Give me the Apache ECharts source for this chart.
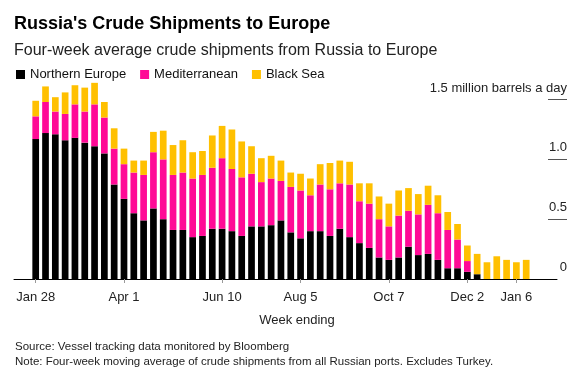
<!DOCTYPE html>
<html><head><meta charset="utf-8">
<script src="https://cdn.jsdelivr.net/npm/echarts@6/dist/echarts.min.js"></script>
<style>html,body{margin:0;padding:0;background:#fff}#c{width:584px;height:369px}</style>
</head><body><div id="c"></div>
<script>
// Week ending dates (weekly, starting Jan 28, 2022)
const firstWeek = '2022-01-28';
const tickWeekIndex = [0, 9, 19, 27, 36, 44, 49];
const tickLabels = ['Jan 28', 'Apr 1', 'Jun 10', 'Aug 5', 'Oct 7', 'Dec 2', 'Jan 6'];
const seriesNames = ['Northern Europe', 'Mediterranean', 'Black Sea'];
// million barrels a day
const northernEurope = [1.17,1.22,1.21,1.16,1.18,1.14,1.11,1.05,0.79,0.67,0.55,0.49,0.59,0.50,0.41,0.41,0.35,0.36,0.42,0.42,0.40,0.36,0.44,0.44,0.45,0.49,0.39,0.34,0.40,0.40,0.36,0.42,0.35,0.30,0.26,0.18,0.16,0.18,0.27,0.20,0.21,0.16,0.09,0.09,0.06,0.04,0,0,0,0,0];
const mediterranean = [0.19,0.26,0.19,0.22,0.28,0.26,0.35,0.30,0.30,0.29,0.34,0.38,0.47,0.50,0.46,0.48,0.49,0.51,0.51,0.59,0.52,0.49,0.44,0.37,0.39,0.33,0.38,0.40,0.30,0.39,0.39,0.38,0.44,0.35,0.37,0.32,0.28,0.35,0.30,0.34,0.41,0.39,0.32,0.24,0.09,0,0,0,0,0,0];
const blackSea = [0.13,0.13,0.12,0.18,0.16,0.20,0.18,0.13,0.17,0.13,0.10,0.12,0.17,0.24,0.25,0.27,0.22,0.20,0.27,0.27,0.33,0.30,0.23,0.20,0.19,0.17,0.12,0.14,0.14,0.17,0.22,0.19,0.19,0.15,0.17,0.19,0.19,0.21,0.19,0.17,0.16,0.15,0.15,0.13,0.13,0.17,0.14,0.19,0.16,0.14,0.16];
const yTickValues = [0.5, 1.0, 1.5];
const colors = ['#000000', '#ff0a96', '#ffc000'];

const start = new Date(firstWeek + 'T00:00:00Z');
const weeks = northernEurope.map((_, i) => new Date(start.getTime() + i * 7 * 864e5).toISOString().slice(0, 10));

const FONT = 'Liberation Sans, Arial, sans-serif';
const chart = echarts.init(document.getElementById('c'), null, {renderer: 'canvas'});
const isTick = idx => tickWeekIndex.indexOf(idx) >= 0;

chart.setOption({
  animation: false,
  textStyle: {fontFamily: FONT},
  title: [
    {text: "Russia's Crude Shipments to Europe", left: 14, top: 14, padding: 0,
     textStyle: {fontSize: 18, fontWeight: 'bold', color: '#000', fontFamily: FONT, lineHeight: 20}},
    {text: 'Four-week average crude shipments from Russia to Europe', left: 14, top: 42, padding: 0,
     textStyle: {fontSize: 16, fontWeight: 'normal', color: '#222', fontFamily: FONT, lineHeight: 18}},
    {text: 'Week ending', left: 297, top: 313, textAlign: 'center', padding: 0,
     textStyle: {fontSize: 13, fontWeight: 'normal', color: '#222', fontFamily: FONT, lineHeight: 15}},
    {text: 'Source: Vessel tracking data monitored by Bloomberg', left: 15, top: 340, padding: 0,
     textStyle: {fontSize: 11.5, fontWeight: 'normal', color: '#222', fontFamily: FONT, lineHeight: 14}},
    {text: 'Note: Four-week moving average of crude shipments from all Russian ports. Excludes Turkey.', left: 15, top: 355, padding: 0,
     textStyle: {fontSize: 11.5, fontWeight: 'normal', color: '#222', fontFamily: FONT, lineHeight: 14}}
  ],
  legend: {
    data: seriesNames, left: 16, top: 68, padding: 0, icon: 'rect',
    itemWidth: 9, itemHeight: 9, itemGap: 14,
    textStyle: {fontSize: 13, color: '#111', fontFamily: FONT}
  },
  grid: [
    // bars (scale extends to 1.8 so tall bars are not clipped; same px per unit as frame)
    {left: 30.8, width: 500.3, top: 63.7, bottom: 90, containLabel: false, outerBoundsMode: 'none'},
    // frame: baseline and value labels
    {left: 14, right: 27, top: 99.6, bottom: 90, containLabel: false, outerBoundsMode: 'none'}
  ],
  xAxis: [
    {
      type: 'category', gridIndex: 0, data: weeks, boundaryGap: true,
      axisLine: {show: false},
      axisTick: {show: true, length: 4, alignWithLabel: true, interval: isTick, lineStyle: {color: '#999'}},
      axisLabel: {interval: isTick, margin: 12, fontSize: 13, color: '#222', fontFamily: FONT,
        formatter: (v) => { const k = tickWeekIndex.indexOf(weeks.indexOf(v)); return k >= 0 ? tickLabels[k] : ''; }},
      splitLine: {show: false}
    },
    {
      type: 'value', gridIndex: 1, min: 0, max: 1,
      axisLine: {show: true, onZero: false, lineStyle: {color: '#000', width: 1}},
      axisTick: {show: false}, axisLabel: {show: false}, splitLine: {show: false}
    }
  ],
  yAxis: [
    {type: 'value', gridIndex: 0, min: 0, max: 1.8, show: false},
    {
      type: 'value', gridIndex: 1, position: 'right', offset: 10, min: 0, max: 1.5, interval: 0.5,
      axisLine: {show: false, onZero: false},
      axisTick: {show: true, inside: true, length: 19, customValues: yTickValues, lineStyle: {color: '#555'}},
      axisLabel: {inside: true, margin: 0, verticalAlign: 'bottom', padding: [0, 0, 5, 0],
        fontSize: 13, color: '#222', fontFamily: FONT,
        formatter: v => v === 1.5 ? '1.5 million barrels a day' : (v === 0 ? '0' : v.toFixed(1))},
      splitLine: {show: false}
    }
  ],
  series: [
    {name: seriesNames[0], type: 'bar', stack: 'a', data: northernEurope, barWidth: 6.7, itemStyle: {color: colors[0]}},
    {name: seriesNames[1], type: 'bar', stack: 'a', data: mediterranean, barWidth: 6.7, itemStyle: {color: colors[1]}},
    {name: seriesNames[2], type: 'bar', stack: 'a', data: blackSea, barWidth: 6.7, itemStyle: {color: colors[2]}}
  ]
});
</script></body></html>
